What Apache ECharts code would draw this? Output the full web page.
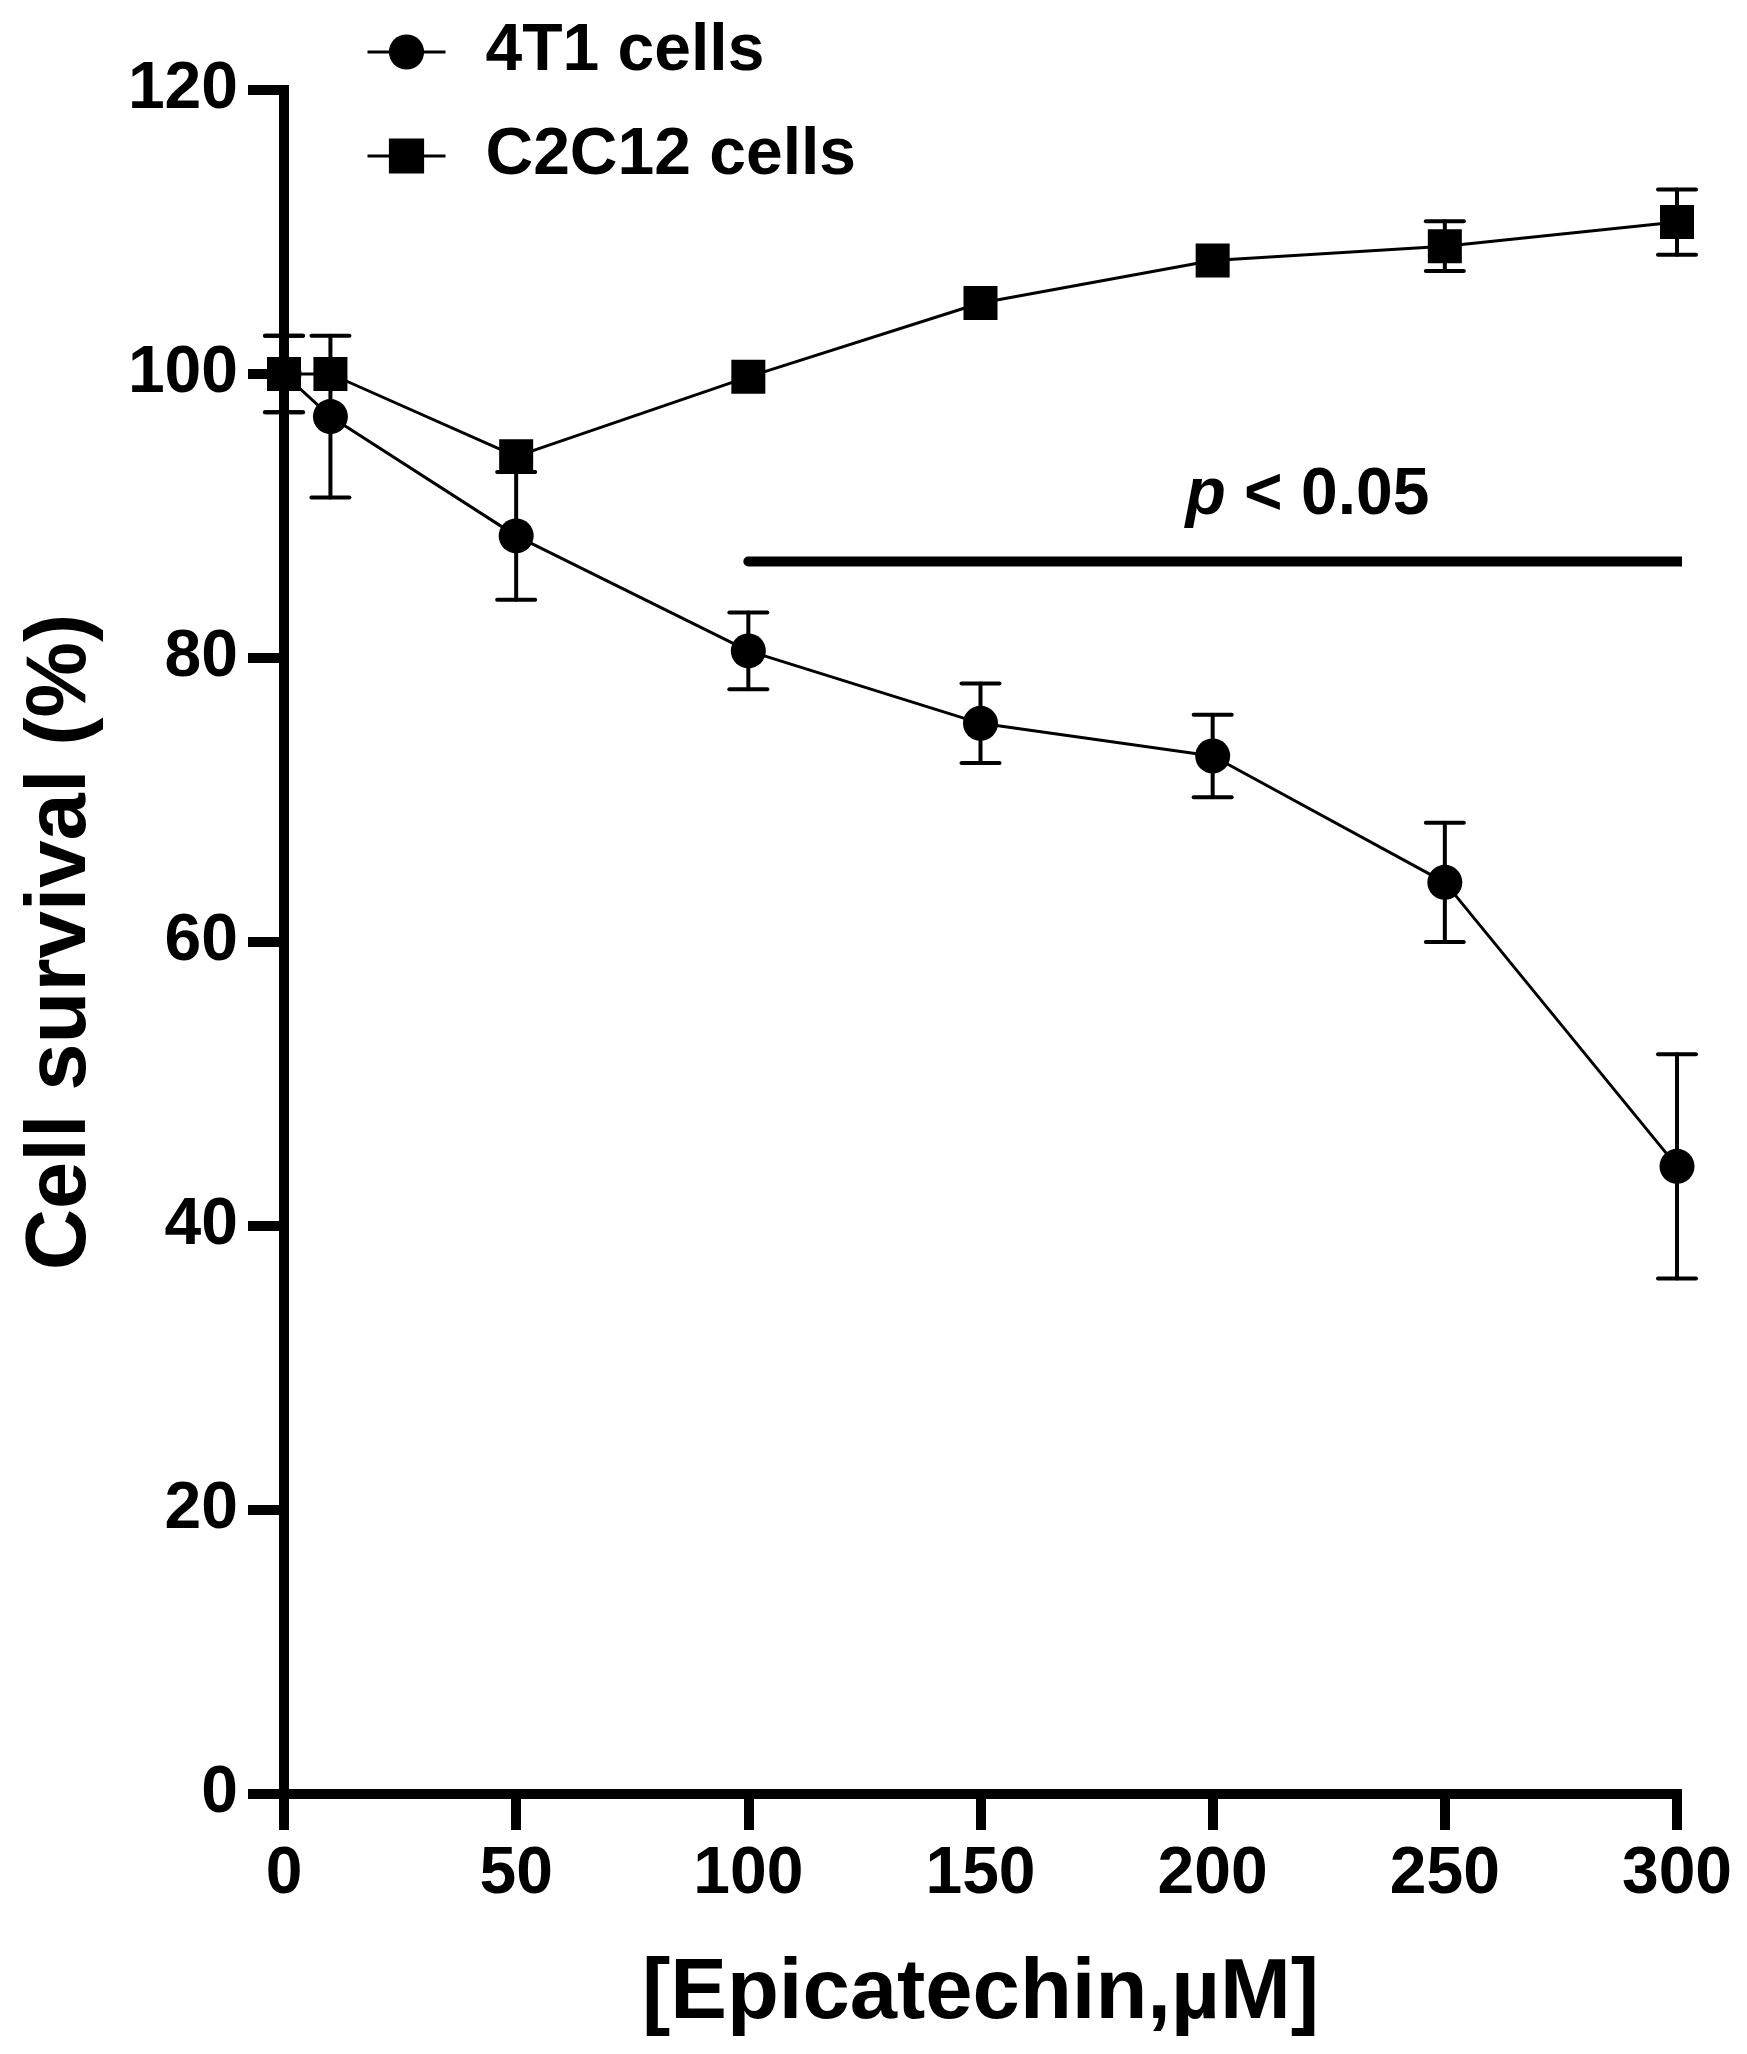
<!DOCTYPE html>
<html>
<head>
<meta charset="utf-8">
<title>Cell survival</title>
<script src="https://cdn.jsdelivr.net/npm/echarts@6/dist/echarts.min.js"></script>
<style>
html, body { margin: 0; padding: 0; background: #fff; }
#chart { width: 1747px; height: 2054px; }
</style>
</head>
<body>
<div id="chart"></div>
<script>
// epicatechin concentration (uM)
var conc = [0, 10, 50, 100, 150, 200, 250, 300];
// 4T1 cells, mean and error
var t1Mean = [100, 97.0, 88.6, 80.5, 75.4, 73.1, 64.2, 44.2];
var t1Err = [2.7, 5.7, 4.5, 2.7, 2.8, 2.9, 4.2, 7.9];
// C2C12 cells, mean and error (0 = hidden behind the symbol)
var c2Mean = [100, 100, 94.2, 99.8, 105.0, 108.0, 109.0, 110.7];
var c2Err = [2.7, 0, 0, 0, 0, 0, 1.75, 2.3];
// significance bar
var sigFrom = 100, sigTo = 301, sigLevel = 86.8;
var sigText = ['p', ' < 0.05'];
var sigTextAt = [220.4, 91.4];

var font = "'Liberation Sans', Arial, Helvetica, sans-serif";

function pairs(ys) {
    return conc.map(function (c, i) { return [c, ys[i]]; });
}
function bars(ys, es) {
    var out = [];
    conc.forEach(function (c, i) {
        if (es[i] > 0) out.push([c, ys[i] - es[i], ys[i] + es[i]]);
    });
    return out;
}

// vertical error bar with caps
function renderErr(params, api) {
    var x = api.value(0);
    var lo = api.coord([x, api.value(1)]);
    var hi = api.coord([x, api.value(2)]);
    var w = 19;
    var st = { stroke: '#000', lineWidth: 4, lineCap: 'round' };
    return {
        type: 'group',
        children: [
            { type: 'line', shape: { x1: lo[0], y1: lo[1], x2: hi[0], y2: hi[1] }, style: st },
            { type: 'line', shape: { x1: lo[0] - w, y1: lo[1], x2: lo[0] + w, y2: lo[1] }, style: st },
            { type: 'line', shape: { x1: hi[0] - w, y1: hi[1], x2: hi[0] + w, y2: hi[1] }, style: st }
        ]
    };
}

var myChart = echarts.init(document.getElementById('chart'));

var option = {
    animation: false,
    backgroundColor: '#fff',
    textStyle: { fontFamily: font, color: '#000' },
    grid: { left: 284, right: 70, top: 90, bottom: 260 },
    legend: {
        orient: 'vertical',
        left: 361,
        top: 14,
        itemWidth: 78,
        itemHeight: 44,
        itemGap: 38,
        data: ['4T1 cells', 'C2C12 cells'],
        lineStyle: { width: 3, color: '#000' },
        itemStyle: { color: '#000' },
        textStyle: { fontFamily: font, fontSize: 66, fontWeight: 'bold', color: '#000', padding: [0, 0, 0, 35] }
    },
    xAxis: {
        type: 'value',
        min: 0, max: 300, interval: 50,
        name: '[Epicatechin,µM]',
        nameLocation: 'middle',
        nameGap: 158,
        nameTextStyle: { fontFamily: font, fontSize: 85, fontWeight: 'bold', color: '#000' },
        axisLine: { onZero: false, lineStyle: { color: '#000', width: 10, cap: 'square' } },
        axisTick: { length: 36, lineStyle: { color: '#000', width: 10 } },
        axisLabel: { margin: 48, fontFamily: font, fontSize: 66, fontWeight: 'bold', color: '#000' },
        splitLine: { show: false }
    },
    yAxis: {
        type: 'value',
        min: 0, max: 120, interval: 20,
        name: 'Cell survival (%)',
        nameLocation: 'middle',
        nameGap: 180,
        nameTextStyle: { fontFamily: font, fontSize: 85, fontWeight: 'bold', color: '#000' },
        axisLine: { onZero: false, lineStyle: { color: '#000', width: 10, cap: 'square' } },
        axisTick: { length: 36, lineStyle: { color: '#000', width: 10 } },
        axisLabel: { margin: 46, fontFamily: font, fontSize: 66, fontWeight: 'bold', color: '#000' },
        splitLine: { show: false }
    },
    series: [
        {
            type: 'custom',
            name: 'err4T1',
            renderItem: renderErr,
            data: bars(t1Mean, t1Err),
            clip: false,
            z: 1
        },
        {
            type: 'custom',
            name: 'errC2C12',
            renderItem: renderErr,
            data: bars(c2Mean, c2Err),
            clip: false,
            z: 1
        },
        {
            name: '4T1 cells',
            type: 'line',
            data: pairs(t1Mean),
            symbol: 'circle',
            symbolSize: 35,
            itemStyle: { color: '#000' },
            lineStyle: { color: '#000', width: 3 },
            clip: false,
            z: 3
        },
        {
            name: 'C2C12 cells',
            type: 'line',
            data: pairs(c2Mean),
            symbol: 'rect',
            symbolSize: 34,
            itemStyle: { color: '#000' },
            lineStyle: { color: '#000', width: 3 },
            clip: false,
            z: 4
        },
        {
            // p < 0.05 bar
            name: 'sig',
            type: 'line',
            data: [[sigFrom, sigLevel], [sigTo, sigLevel]],
            symbol: 'none',
            lineStyle: { color: '#000', width: 10, cap: 'round' },
            clip: false,
            z: 2
        },
        {
            name: 'sigText',
            type: 'scatter',
            data: [sigTextAt],
            symbolSize: 0,
            itemStyle: { color: '#000', opacity: 1 },
            clip: false,
            label: {
                show: true,
                position: 'inside',
                formatter: '{i|' + sigText[0] + '}' + sigText[1],
                fontFamily: font,
                fontSize: 66,
                fontWeight: 'bold',
                color: '#000',
                textBorderWidth: 0,
                rich: {
                    i: { fontFamily: font, fontSize: 66, fontWeight: 'bold', fontStyle: 'italic', color: '#000', textBorderWidth: 0 }
                }
            },
            z: 5
        }
    ]
};

myChart.setOption(option);
</script>
</body>
</html>
